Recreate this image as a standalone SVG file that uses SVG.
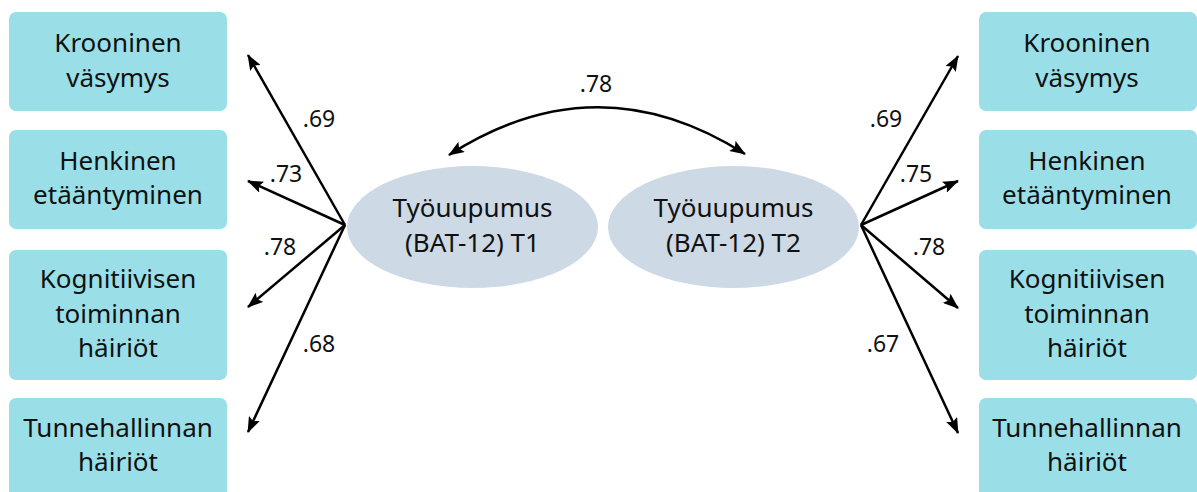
<svg xmlns="http://www.w3.org/2000/svg" width="1197" height="492" viewBox="0 0 1197 492">
<defs>
<style>
.box{fill:#9adfe8;}
.ell{fill:#cdd9e5;}
.t{font-family:"Noto Sans","Open Sans",sans-serif;font-size:26px;fill:#111;text-anchor:middle;}
.lbl{font-family:"Noto Sans","Open Sans",sans-serif;font-size:23px;fill:#111;text-anchor:middle;}
.c{fill:none;stroke:#000;stroke-width:2.5;}
</style>
<marker id="ah" viewBox="0 0 16 12" refX="15" refY="6" markerWidth="16" markerHeight="12" markerUnits="userSpaceOnUse" orient="auto-start-reverse">
<path d="M0,0 L16,6 L0,12 L3,6 Z" fill="#000"/>
</marker>
</defs>
<rect width="1197" height="492" fill="#fff"/>
<g id="L1"><rect class="box" x="9" y="12" width="218" height="99" rx="7"/><text class="t" x="118" y="52">Krooninen</text><text class="t" x="118" y="87">väsymys</text></g>
<g id="L2"><rect class="box" x="9" y="130" width="218" height="99" rx="7"/><text class="t" x="118" y="170">Henkinen</text><text class="t" x="118" y="204">etääntyminen</text></g>
<g id="L3"><rect class="box" x="9" y="250" width="218" height="130" rx="7"/><text class="t" x="118" y="288">Kognitiivisen</text><text class="t" x="118" y="323">toiminnan</text><text class="t" x="118" y="357">häiriöt</text></g>
<g id="L4"><rect class="box" x="9" y="398" width="218" height="104" rx="7"/><text class="t" x="118" y="437">Tunnehallinnan</text><text class="t" x="118" y="471">häiriöt</text></g>
<g id="R1"><rect class="box" x="979" y="12" width="218" height="99" rx="7"/><text class="t" x="1087" y="52">Krooninen</text><text class="t" x="1087" y="87">väsymys</text></g>
<g id="R2"><rect class="box" x="979" y="130" width="218" height="99" rx="7"/><text class="t" x="1087" y="170">Henkinen</text><text class="t" x="1087" y="204">etääntyminen</text></g>
<g id="R3"><rect class="box" x="979" y="250" width="218" height="130" rx="7"/><text class="t" x="1087" y="288">Kognitiivisen</text><text class="t" x="1087" y="323">toiminnan</text><text class="t" x="1087" y="357">häiriöt</text></g>
<g id="R4"><rect class="box" x="979" y="398" width="218" height="104" rx="7"/><text class="t" x="1087" y="437">Tunnehallinnan</text><text class="t" x="1087" y="471">häiriöt</text></g>
<g id="T1"><ellipse class="ell" cx="472.5" cy="227" rx="125.5" ry="61"/><text class="t" x="472.5" y="217">Työuupumus</text><text class="t" x="472.5" y="252">(BAT-12) T1</text></g>
<g id="T2"><ellipse class="ell" cx="733.5" cy="227" rx="125.5" ry="61"/><text class="t" x="733.5" y="217">Työuupumus</text><text class="t" x="733.5" y="252">(BAT-12) T2</text></g>
<g id="connectors">
<path class="c" marker-end="url(#ah)" d="M345,225 L248,55"/>
<path class="c" marker-end="url(#ah)" d="M345,225 L248,181"/>
<path class="c" marker-end="url(#ah)" d="M345,225 L248,307"/>
<path class="c" marker-end="url(#ah)" d="M345,225 L248,432"/>
<path class="c" marker-end="url(#ah)" d="M861,225 L958,56"/>
<path class="c" marker-end="url(#ah)" d="M861,225 L958,181"/>
<path class="c" marker-end="url(#ah)" d="M861,225 L958,308"/>
<path class="c" marker-end="url(#ah)" d="M861,225 L958,433"/>
<path class="c" marker-start="url(#ah)" marker-end="url(#ah)" d="M449,155 Q597,60 745,154"/>
<text class="lbl" x="319" y="127">.69</text>
<text class="lbl" x="286" y="182">.73</text>
<text class="lbl" x="280" y="255">.78</text>
<text class="lbl" x="319" y="352">.68</text>
<text class="lbl" x="886" y="127">.69</text>
<text class="lbl" x="916" y="182">.75</text>
<text class="lbl" x="929" y="255">.78</text>
<text class="lbl" x="883" y="352">.67</text>
<text class="lbl" x="596" y="92">.78</text>
</g>
</svg>
